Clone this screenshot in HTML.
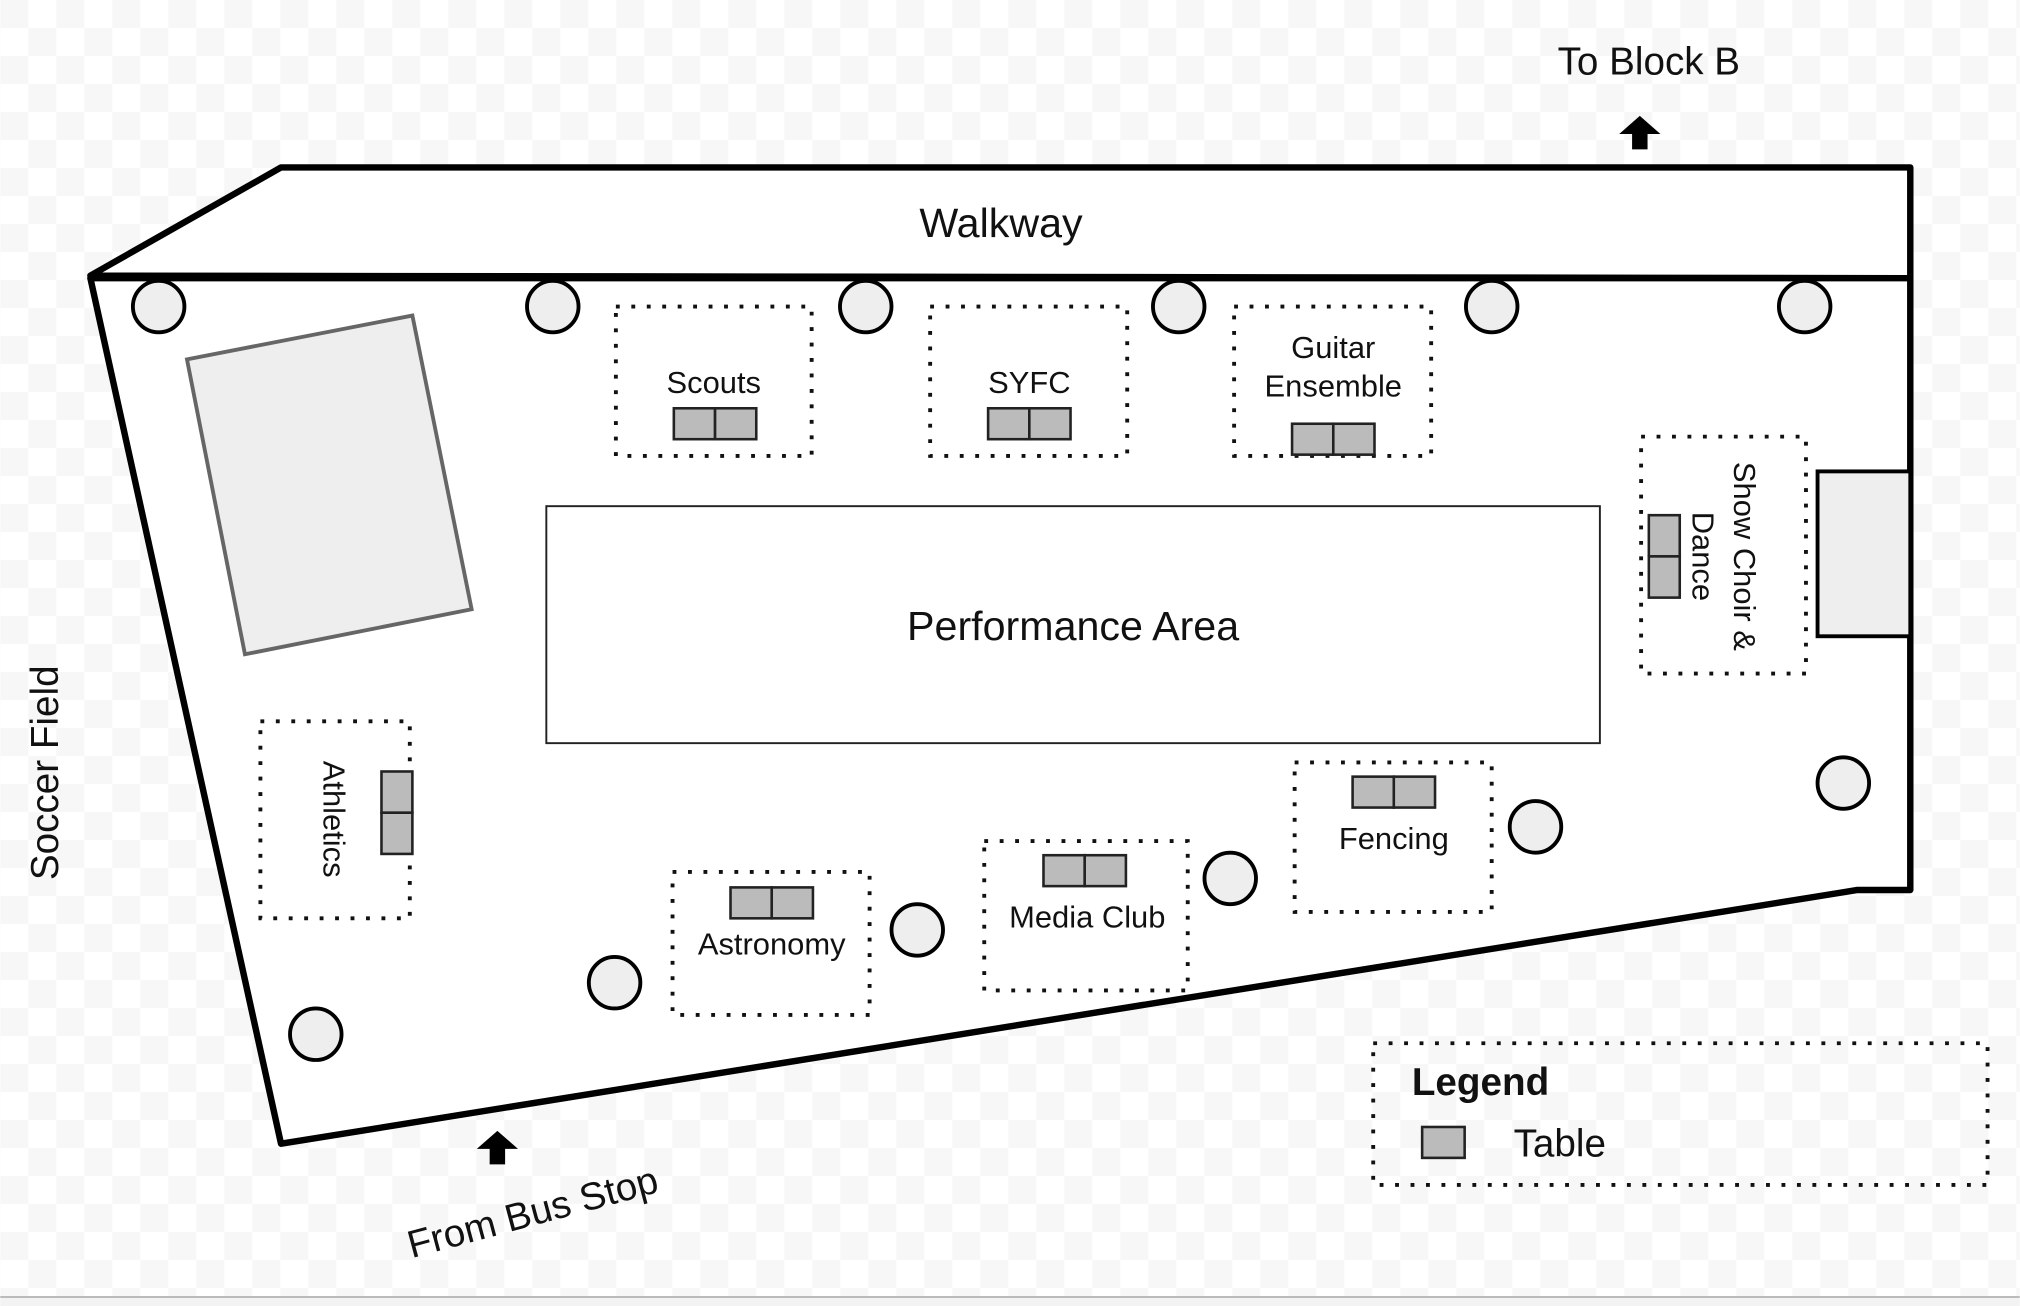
<!DOCTYPE html>
<html><head><meta charset="utf-8"><style>html,body{margin:0;padding:0;background:#fff}svg{display:block}text{font-family:"Liberation Sans",Arial,sans-serif;fill:#111}</style></head>
<body>
<svg width="2020" height="1306" viewBox="0 0 1568 1014" xmlns="http://www.w3.org/2000/svg">
<defs>
<pattern id="ck" width="43.48" height="43.48" patternUnits="userSpaceOnUse">
<rect width="43.48" height="43.48" fill="#fff"/>
<rect x="0" y="0" width="21.74" height="21.74" fill="#f7f7f7"/>
<rect x="21.74" y="21.74" width="21.74" height="21.74" fill="#f7f7f7"/>
</pattern>
</defs>
<rect width="1568" height="1007" fill="url(#ck)"/>
<rect y="1007" width="1568" height="7" fill="#f3f3f3"/>
<line x1="0" y1="1007" x2="1568" y2="1007" stroke="#bbb" stroke-width="1.5"/>

<polygon points="70,214 218,130 1483,130 1483,216" fill="#fff" stroke="#000" stroke-width="5" stroke-linejoin="round"/>
<polygon points="70,216 218,888 1442,691 1483,691 1483,216" fill="#fff" stroke="#000" stroke-width="5" stroke-linejoin="round"/>
<text x="777" y="184" font-size="32" text-anchor="middle">Walkway</text>

<polygon points="145,279 320,245 366,473 190,508" fill="#eee" stroke="#666" stroke-width="3"/>
<rect x="1411" y="366" width="72" height="128" fill="#eee" stroke="#000" stroke-width="3"/>
<rect x="424" y="393" width="818" height="184" fill="#fff" stroke="#222" stroke-width="1.5"/>
<text x="833" y="497" font-size="32" text-anchor="middle">Performance Area</text>

<g fill="#eee" stroke="#000" stroke-width="3">
<circle cx="123" cy="238" r="20"/><circle cx="429" cy="238" r="20"/><circle cx="672" cy="238" r="20"/>
<circle cx="915" cy="238" r="20"/><circle cx="1158" cy="238" r="20"/><circle cx="1401" cy="238" r="20"/>
<circle cx="1431" cy="608" r="20"/><circle cx="1192" cy="642" r="20"/><circle cx="955" cy="682" r="20"/>
<circle cx="712" cy="722" r="20"/><circle cx="477" cy="763" r="20"/><circle cx="245" cy="803" r="20"/>
</g>

<g fill="none" stroke="#111" stroke-width="3" stroke-dasharray="3,9">
<rect x="478" y="238" width="152" height="116"/>
<rect x="722" y="238" width="153" height="116"/>
<rect x="958" y="238" width="153" height="116"/>
<rect x="1274" y="339" width="128" height="184"/>
<rect x="202" y="560" width="116" height="153"/>
<rect x="522" y="677" width="153" height="111"/>
<rect x="764" y="653" width="158" height="116"/>
<rect x="1005" y="592" width="153" height="116"/>
<rect x="1066" y="810" width="477" height="110"/>
</g>

<g fill="#bbb" stroke="#222" stroke-width="2">
<rect x="523" y="317" width="32" height="24"/><rect x="555" y="317" width="32" height="24"/>
<rect x="767" y="317" width="32" height="24"/><rect x="799" y="317" width="32" height="24"/>
<rect x="1003" y="329" width="32" height="24"/><rect x="1035" y="329" width="32" height="24"/>
<rect x="1280" y="400" width="24" height="32"/><rect x="1280" y="432" width="24" height="32"/>
<rect x="296" y="599" width="24" height="32"/><rect x="296" y="631" width="24" height="32"/>
<rect x="567" y="689" width="32" height="24"/><rect x="599" y="689" width="32" height="24"/>
<rect x="810" y="664" width="32" height="24"/><rect x="842" y="664" width="32" height="24"/>
<rect x="1050" y="603" width="32" height="24"/><rect x="1082" y="603" width="32" height="24"/>
<rect x="1104" y="875" width="33" height="24"/>
</g>

<g font-size="24" text-anchor="middle">
<text x="554" y="305">Scouts</text>
<text x="799" y="305">SYFC</text>
<text x="1035" y="278">Guitar</text>
<text x="1035" y="308">Ensemble</text>
<text x="599" y="741">Astronomy</text>
<text x="844" y="720">Media Club</text>
<text x="1082" y="659">Fencing</text>
<text transform="translate(251,636) rotate(90)">Athletics</text>
<text transform="translate(1346,432) rotate(90)">Show Choir &amp;</text>
<text transform="translate(1314,432) rotate(90)">Dance</text>
</g>

<text x="1096" y="850" font-size="30" font-weight="bold">Legend</text>
<text x="1175" y="898" font-size="30">Table</text>

<text x="1280" y="58" font-size="30" text-anchor="middle">To Block B</text>
<text transform="translate(45,600) rotate(-90)" font-size="30" text-anchor="middle">Soccer Field</text>
<text transform="translate(416,951) rotate(-15)" font-size="30" text-anchor="middle">From Bus Stop</text>

<polygon points="1273,90 1289,104 1279,104 1279,116 1267,116 1267,104 1257,104" fill="#000"/>
<polygon points="386,878 402,892 392,892 392,904 380,904 380,892 370,892" fill="#000"/>
</svg>
</body></html>
